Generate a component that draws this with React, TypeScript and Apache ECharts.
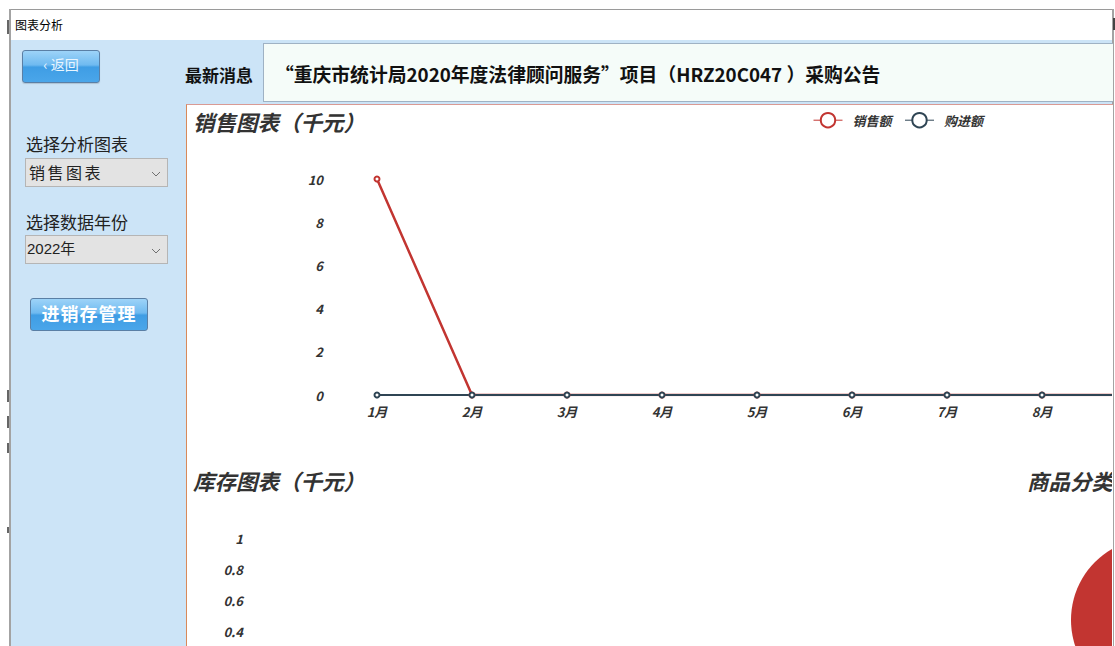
import React, { useEffect, useRef } from "react";
import * as echarts from "echarts";

// ---- data ----
const months = ["1月", "2月", "3月", "4月", "5月", "6月", "7月", "8月", "9月", "10月", "11月", "12月"];
const visibleMonthCount = 8; // months whose labels fall inside the window
const legendNames = ["销售额", "购进额"];
const salesValues = [10, 0, 0, 0, 0, 0, 0, 0, 0, 0, 0, 0];
const purchaseValues = [0, 0, 0, 0, 0, 0, 0, 0, 0, 0, 0, 0];
const salesAxisRange = [0, 10, 2]; // min, max, interval
const inventoryValues: number[] = [];
const inventoryAxisRange = [0, 1, 0.2];
const inventoryVisibleMin = 0.4; // lowest tick label inside the window
const categoryNames = ["商品"];
const categoryValues = [1];
const chartTitles = ["销售图表（千元）", "库存图表（千元）", "商品分类"];
const palette = ["#c23531", "#2f4554", "#61a0a8", "#d48265", "#91c7ae"];

const FONT = '"Noto Sans CJK SC", "Noto Sans", sans-serif';

const boldItalic = {
  color: "#333",
  fontWeight: "bold" as const,
  fontStyle: "italic" as const,
  fontFamily: FONT,
};

function Chevron({ x, y }: { x: number; y: number }) {
  return (
    <svg
      width={10}
      height={6}
      style={{ position: "absolute", left: x, top: y }}
      viewBox="0 0 10 6"
    >
      <polyline points="1,1 5,5 9,1" fill="none" stroke="#707070" strokeWidth={1} />
    </svg>
  );
}

export default function App() {
  const ref = useRef<HTMLDivElement>(null);

  useEffect(() => {
    document.body.style.margin = "0";
    if (!ref.current) return;
    const chart = echarts.init(ref.current, null, { renderer: "svg" });
    const titleStyle = { ...boldItalic, fontSize: 21.5 };
    const labelStyle = { ...boldItalic, fontSize: 13 };
    chart.setOption({
      animation: false,
      color: palette,
      textStyle: { fontFamily: FONT },
      title: [
        { text: chartTitles[0], left: 6, top: 6, padding: 0, textStyle: titleStyle },
        { text: chartTitles[1], left: 6, top: 365, padding: 0, textStyle: titleStyle },
        { text: chartTitles[2], left: 840, top: 365, padding: 0, textStyle: titleStyle },
      ],
      legend: {
        data: legendNames,
        left: 626,
        top: 7,
        padding: 0,
        itemGap: 13,
        itemWidth: 29,
        itemHeight: 18,
        lineStyle: { width: 1 },
        itemStyle: { borderWidth: 1 },
        textStyle: { ...boldItalic, fontSize: 13, padding: [0, 0, 0, 5] },
      },
      grid: [
        { left: 190, top: 74, width: 1045, height: 216 },
        { left: 64, top: 433, width: 560, height: 156.5 },
      ],
      xAxis: [
        {
          type: "category",
          gridIndex: 0,
          data: months,
          boundaryGap: false,
          axisLine: { show: false },
          axisTick: { show: false },
          axisLabel: {
            ...labelStyle,
            margin: 10,
            interval: (i: number) => i < visibleMonthCount,
          },
        },
        {
          type: "category",
          gridIndex: 1,
          data: months,
          boundaryGap: false,
          axisLine: { show: false },
          axisTick: { show: false },
          axisLabel: { show: false },
        },
      ],
      yAxis: [
        {
          type: "value",
          gridIndex: 0,
          min: salesAxisRange[0],
          max: salesAxisRange[1],
          interval: salesAxisRange[2],
          axisLine: { show: false },
          axisTick: { show: false },
          splitLine: { show: false },
          axisLabel: { ...labelStyle, margin: 54 },
        },
        {
          type: "value",
          gridIndex: 1,
          min: inventoryAxisRange[0],
          max: inventoryAxisRange[1],
          interval: inventoryAxisRange[2],
          axisLine: { show: false },
          axisTick: { show: false },
          splitLine: { show: false },
          axisLabel: {
            ...labelStyle,
            margin: 8,
            formatter: (v: number) => (v >= inventoryVisibleMin - 1e-9 ? String(v) : ""),
          },
        },
      ],
      series: [
        {
          name: legendNames[0],
          type: "line",
          xAxisIndex: 0,
          yAxisIndex: 0,
          data: salesValues,
          symbol: "emptyCircle",
          symbolSize: 5,
          lineStyle: { width: 2.5 },
        },
        {
          name: legendNames[1],
          type: "line",
          xAxisIndex: 0,
          yAxisIndex: 0,
          data: purchaseValues,
          symbol: "emptyCircle",
          symbolSize: 5,
          lineStyle: { width: 1.8 },
        },
        {
          name: "库存额",
          type: "line",
          xAxisIndex: 1,
          yAxisIndex: 1,
          data: inventoryValues,
        },
        {
          name: chartTitles[2],
          type: "pie",
          center: [966, 515],
          radius: 82,
          label: { show: false },
          labelLine: { show: false },
          data: categoryNames.map((n, i) => ({ name: n, value: categoryValues[i] })),
        },
      ],
    });
    return () => chart.dispose();
  }, []);

  const blueBtn =
    "linear-gradient(to bottom, #9dd3f8 0%, #6fbaf0 45%, #3f9de4 52%, #4aa6ea 100%)";

  const mark = (top: number, h: number) => (
    <div style={{ position: "absolute", left: 7, top, width: 2, height: h, background: "#666" }} />
  );

  return (
    <div
      style={{
        position: "absolute",
        left: 0,
        top: 0,
        width: 1115,
        height: 646,
        overflow: "hidden",
        background: "#ffffff",
        fontFamily: FONT,
      }}
    >
      {/* window frame */}
      <div style={{ position: "absolute", left: 10, top: 9, width: 1103, height: 1, background: "#9a9a9a" }} />
      <div style={{ position: "absolute", left: 9, top: 9, width: 2, height: 637, background: "#a3a3a3" }} />
      <div style={{ position: "absolute", left: 1112, top: 9, width: 2, height: 637, background: "#a3a3a3" }} />
      <div style={{ position: "absolute", left: 1113, top: 18, width: 2, height: 12, background: "#444" }} />
      {mark(20, 14)}
      {mark(390, 12)}
      {mark(416, 12)}
      {mark(443, 10)}
      {mark(527, 6)}
      <div
        style={{
          position: "absolute",
          left: 15,
          top: 16,
          fontSize: 12,
          lineHeight: "18px",
          color: "#000",
        }}
      >
        图表分析
      </div>

      {/* blue client area */}
      <div style={{ position: "absolute", left: 11, top: 40, width: 1101, height: 606, background: "#cce4f7" }} />

      {/* back button */}
      <div
        style={{
          position: "absolute",
          left: 22,
          top: 50,
          width: 76,
          height: 31,
          borderRadius: 3,
          border: "1px solid #5a7fa5",
          background: blueBtn,
          color: "#eaf6ff",
          fontSize: 14,
          lineHeight: "26px",
          textAlign: "center",
          boxShadow: "0 1px 1px rgba(0,0,0,0.15)",
        }}
      >
        ‹ 返回
      </div>

      {/* latest news */}
      <div
        style={{
          position: "absolute",
          left: 185,
          top: 63,
          fontSize: 17,
          fontWeight: "bold",
          lineHeight: "24px",
          color: "#111",
        }}
      >
        最新消息
      </div>
      <div
        style={{
          position: "absolute",
          left: 263,
          top: 43,
          width: 849,
          height: 57,
          background: "#f5fcf9",
          border: "1px solid #9fb2c4",
          borderRight: "none",
        }}
      />
      <div
        style={{
          position: "absolute",
          left: 275,
          top: 60,
          fontSize: 18.8,
          fontWeight: "bold",
          lineHeight: "27px",
          color: "#111",
          whiteSpace: "nowrap",
        }}
      >
        “重庆市统计局2020年度法律顾问服务”项目（HRZ20C047 ）采购公告
      </div>

      {/* left controls */}
      <div style={{ position: "absolute", left: 26, top: 132, fontSize: 17, lineHeight: "24px", color: "#222" }}>
        选择分析图表
      </div>
      <div
        style={{
          position: "absolute",
          left: 25,
          top: 158,
          width: 141,
          height: 27,
          background: "#e3e3e3",
          border: "1px solid #b5b5b5",
        }}
      />
      <div
        style={{
          position: "absolute",
          left: 29,
          top: 159,
          fontSize: 16,
          lineHeight: "26px",
          letterSpacing: 2.5,
          color: "#222",
        }}
      >
        销售图表
      </div>
      <Chevron x={151} y={171} />

      <div style={{ position: "absolute", left: 26, top: 210, fontSize: 17, lineHeight: "24px", color: "#222" }}>
        选择数据年份
      </div>
      <div
        style={{
          position: "absolute",
          left: 25,
          top: 235,
          width: 141,
          height: 27,
          background: "#e3e3e3",
          border: "1px solid #b5b5b5",
        }}
      />
      <div
        style={{
          position: "absolute",
          left: 27,
          top: 236,
          fontSize: 15,
          lineHeight: "26px",
          color: "#222",
          fontFamily: '"Liberation Sans", "Noto Sans CJK SC", sans-serif',
        }}
      >
        2022年
      </div>
      <Chevron x={151} y={248} />

      <div
        style={{
          position: "absolute",
          left: 30,
          top: 298,
          width: 116,
          height: 31,
          borderRadius: 3,
          border: "1px solid #5a7fa5",
          background: blueBtn,
          color: "#ffffff",
          fontSize: 18,
          fontWeight: "bold",
          lineHeight: "28px",
          letterSpacing: 1,
          textAlign: "center",
        }}
      >
        进销存管理
      </div>

      {/* chart panel */}
      <div
        style={{
          position: "absolute",
          left: 186,
          top: 104,
          width: 926,
          height: 542,
          background: "#ffffff",
          borderTop: "1px solid #d99a94",
          borderLeft: "1px solid #d8895a",
        }}
      />
      <div
        style={{ position: "absolute", left: 187, top: 105, width: 925, height: 541, overflow: "hidden" }}
      >
        <div ref={ref} style={{ position: "absolute", left: 0, top: 0, width: 1400, height: 720 }} />
      </div>
    </div>
  );
}
